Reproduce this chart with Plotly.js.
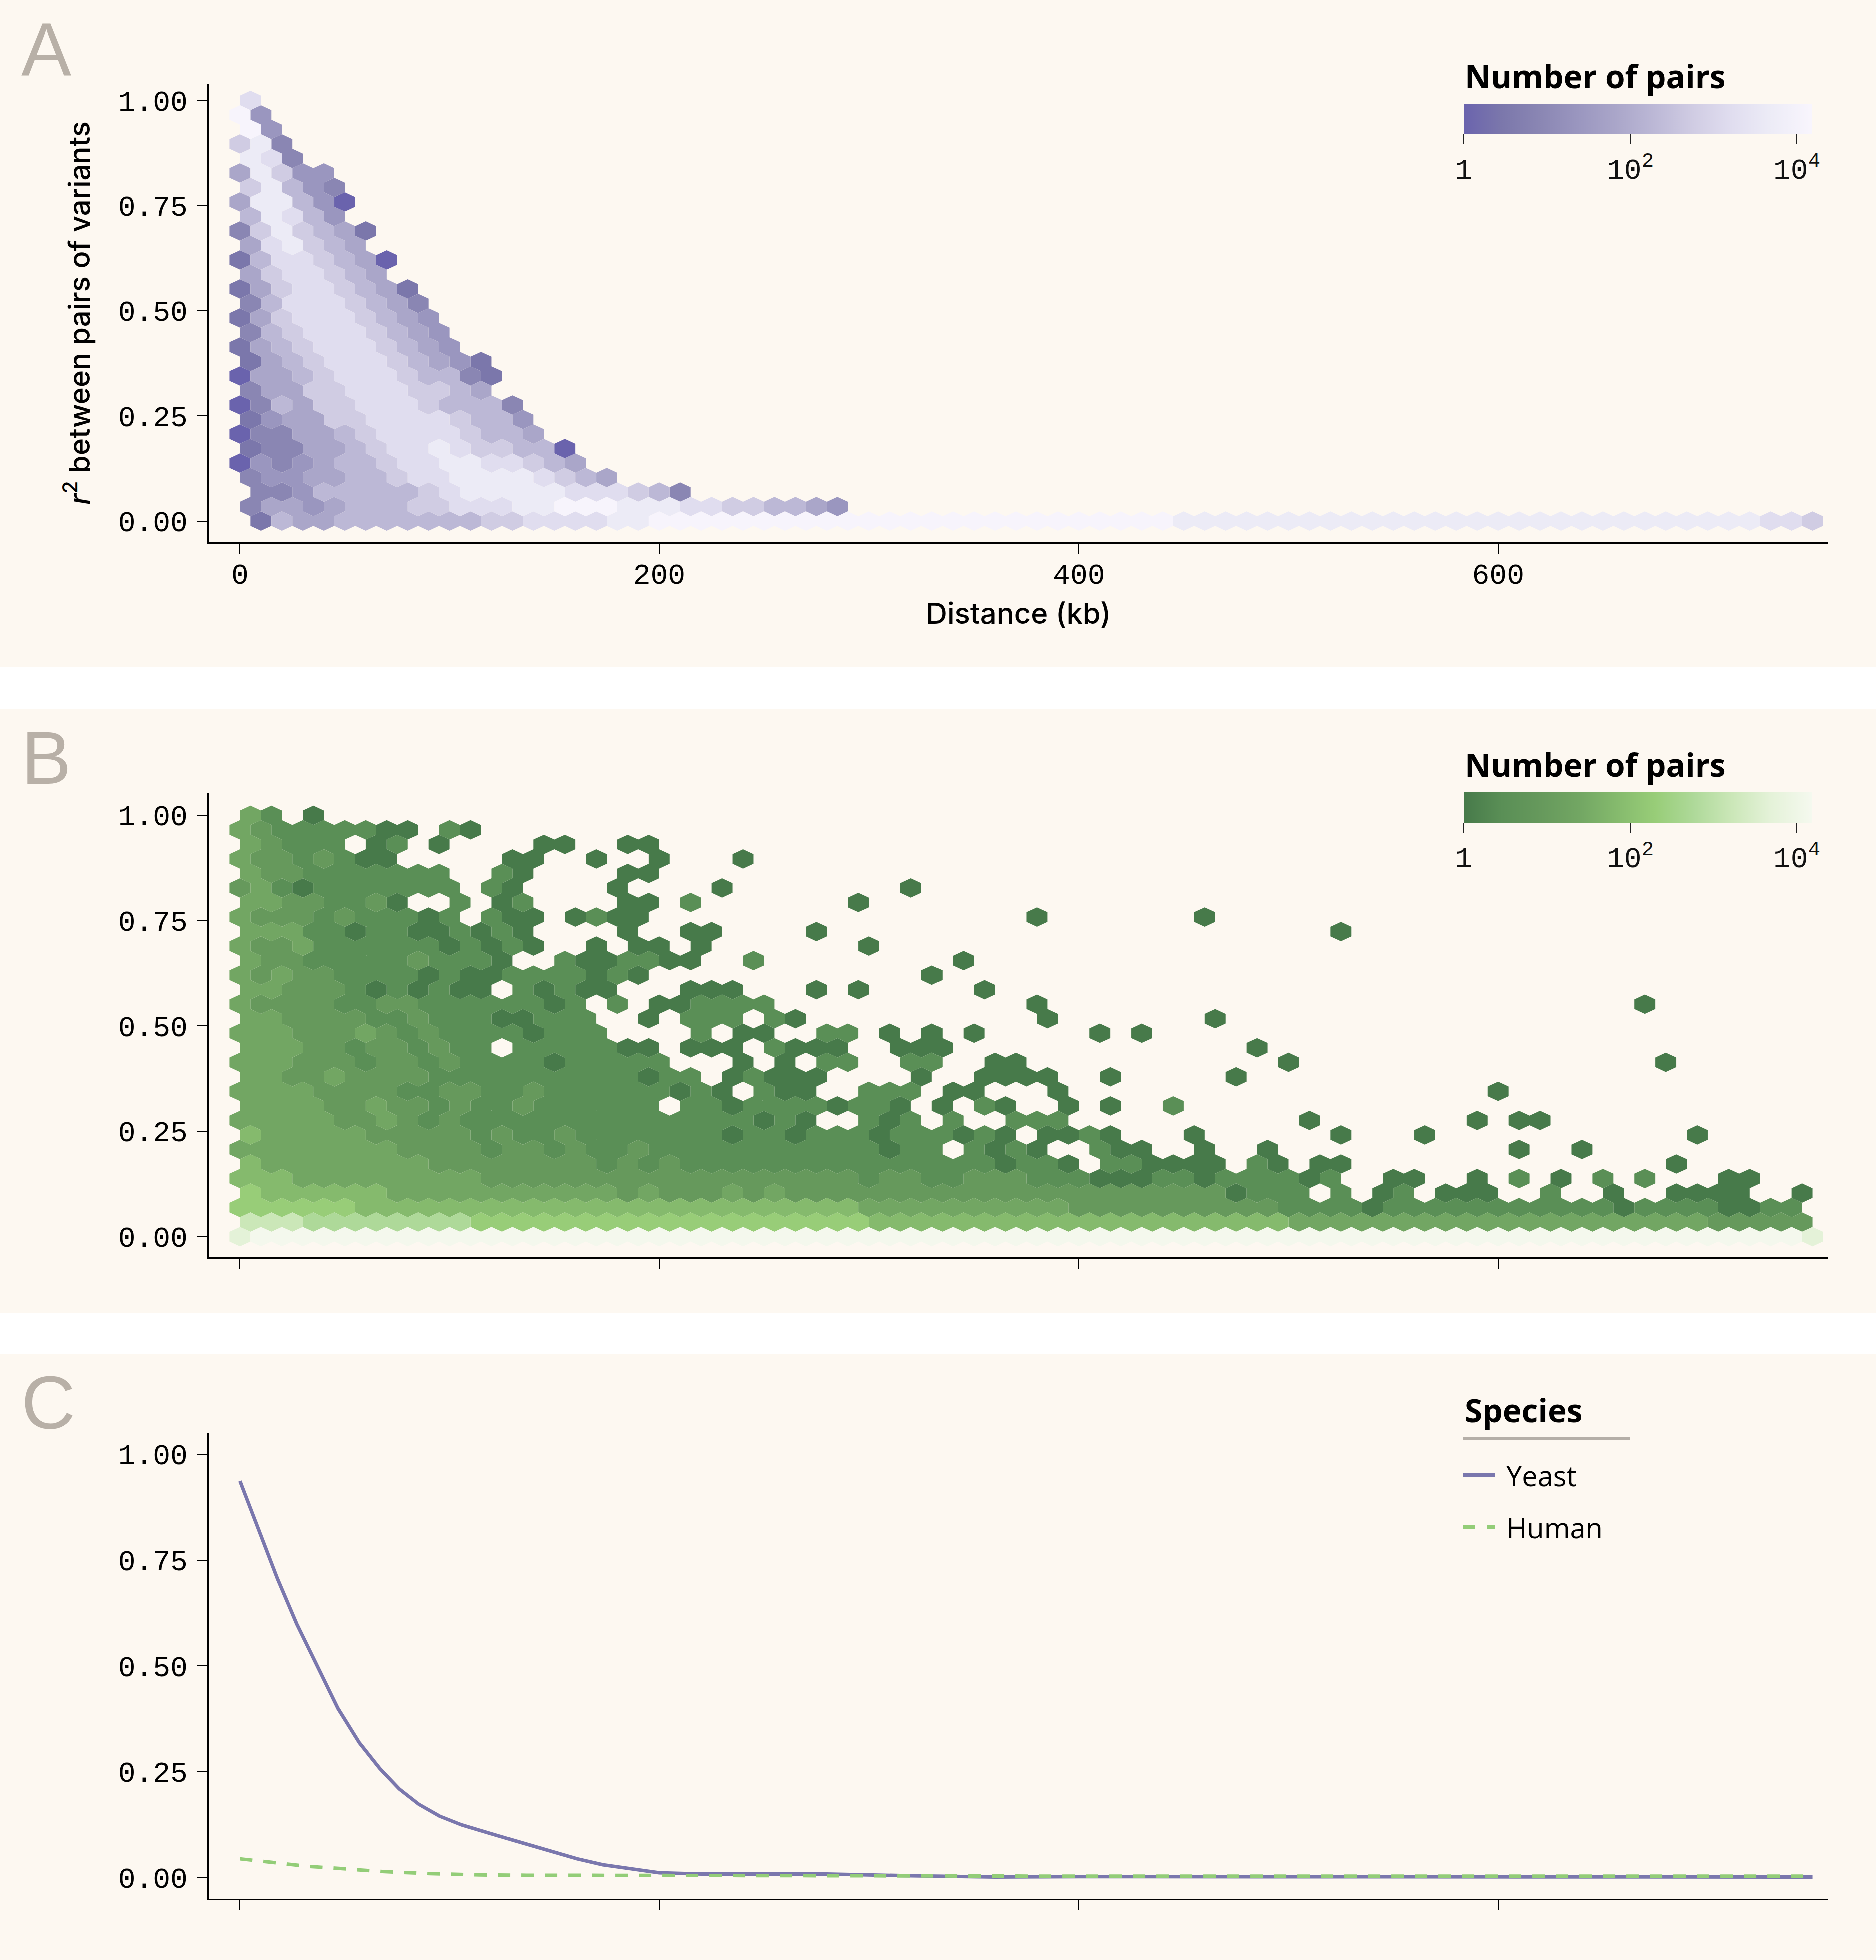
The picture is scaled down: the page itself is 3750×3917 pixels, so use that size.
<!DOCTYPE html>
<html>
<head>
<meta charset="utf-8">
<script src="https://cdn.plot.ly/plotly-3.0.1.min.js"></script>
<style>
  html, body { margin: 0; padding: 0; background: #ffffff; }
  #chart { width: 3750px; height: 3917px; }
</style>
</head>
<body>
<div id="chart"></div>
<script>
// Hex bins, one string per row, top row (r2 = 1.00) first.
// Each character is a colour level: log10(number of pairs) / 0.46, '.' = empty cell.
// Even rows (counted from the bottom) sit at 0, 10, 20 ... kb, odd rows at 5, 15, 25 ... kb.
const yeastHexRows = [
  '7',
  '93',
  '93',
  '682',
  '872',
  '48633',
  '68532',
  '488530',
  '58753',
  '2686541',
  '478654',
  '15776540',
  '4677654',
  '146776541',
  '257776542',
  '1467776543',
  '2567776543',
  '14567776543',
  '145677765431',
  '0445677765521',
  '244667776654',
  '02546677765552',
  '13446677776553',
  '022445677776554',
  '1224456778766550',
  '03234556778877654',
  '233445567788887654',
  '.223555556788888777652',
  '24434 55566 77788 99988 87766 5543',
  '.1544 55555 55667 77788 99999 99999 99999 99999 99999 88888 88888 88888 88888 88888 88877 6'
];

const humanHexRows = [
  '31.0',
  '32111 1100. 10',
  '32111 .01.0 ....0 0..00',
  '32212 100.. ...00 ..0.. 0...0',
  '32211 11111 ..10. ...00',
  '23101 11111 1.10. ...0. ...0. ..... ..0',
  '33221 120.. 1.01. ...00 .1... ....0',
  '32221 21110 1.100 .0100 ..... ..... ..... ...0. ..... .0',
  '33311 01100 1010. ...0. .00.. ..0.. ..... ..... ..... ..... ..0',
  '32231 11111 01010 ..0.0 0.0.. ..... 0',
  '32211 11121 110.. 10011 00..1 ..... ....0',
  '32322 11110 10011 11010 ..... ..... ...0',
  '33222 10101 00.10 100.. .000. ..0.0 ..... 0',
  '32222 11221 11111 01.1. 00111 1.... ..... ...0. ..... ..... ..... ..... ..... ..0',
  '33222 21121 11001 11..0 .111. 10... ..... ...0. ..... .0',
  '33322 23212 11110 111.. ..1.0 0..11 .0.0. 0.... .0.0',
  '33322 12212 11.11 11100 .000. 1000. .000. ..... ..... ...0',
  '33322 21221 21111 01111 1...0 .0.11 ..11. .00.. ..... ..... 0.... ..... ..... ...0',
  '33223 22221 11111 11110 11.01 000.. ..0.. 0000. .0... ..0',
  '33332 22211 22112 11111 1010. 100.. 111.0 0...0 ..... ..... ..... ..... 0',
  '33332 23221 21121 11111 .1101 11101 10.0. 10..0 .0..1',
  '33333 22321 21111 11111 11111 010.. 101.1 ..111 ..... ..... .0... ....0 .00',
  '43333 32222 21211 21111 11101 10111 01110 10.00 10... 0.... ..0.. .0... ..... ....0',
  '33333 33322 22122 12112 11111 11111 1011. 1010. .100. .0..0 ..... ..... .0..0',
  '43333 33332 22222 22121 21111 11111 11111 10110 .1100 00.10 .00.. ..... ..... ...0',
  '44433 33333 33222 22222 22222 22222 12211 22211 10001 10111 101.. 00..0 .1.0. 1.1.. .00',
  '54444 44333 33333 33323 22232 32222 22222 22222 22222 22011 1.1.0 1.000 ..1.. 0..00 00..0',
  '55555 54444 44444 44444 44444 44444 33333 33333 22222 22222 11110 11111 11111 10111 10011 .',
  '77766 66666 65555 55555 55555 55555 44444 44444 44444 44444 33333 33333 33333 33333 22222',
  '89999 99999 99999 99999 99999 99999 99999 99999 99999 99999 99999 99999 99999 99999 99999 8'
];

// panel C: mean r2 against distance (kb)
const yeastDistance = [0, 9, 17.9, 27.1, 37.7, 46.8, 57, 66.6, 76, 85.3, 95.2, 105.9, 120, 133.5,
  151.8, 160.9, 173.1, 189.8, 200, 220, 250, 280, 320, 360, 400, 450, 500, 550, 600, 650, 700, 750];
const yeastR2 = [0.937, 0.822, 0.706, 0.599, 0.490, 0.399, 0.318, 0.258, 0.209, 0.173, 0.145, 0.124,
  0.103, 0.083, 0.057, 0.044, 0.030, 0.017, 0.011, 0.008, 0.009, 0.008, 0.004, 0.001, 0.002, 0.002,
  0.002, 0.001, 0.001, 0.001, 0.001, 0.001];
const humanDistance = [0, 10, 22.5, 33, 45.3, 57.5, 68, 91, 114, 136.6, 159, 182, 200, 250, 300,
  400, 500, 600, 700, 750];
const humanR2 = [0.044, 0.038, 0.032, 0.026, 0.022, 0.017, 0.014, 0.009, 0.006, 0.0053, 0.005,
  0.005, 0.005, 0.004, 0.004, 0.003, 0.003, 0.003, 0.003, 0.003];

const yTickVals = [0, 0.25, 0.5, 0.75, 1];
const xTickVals = [0, 200, 400, 600];
const countTickVals = [0, 2, 4];
const countTickText = ['1', '10<sup>2</sup>', '10<sup>4</sup>'];

(function () {
  const W = 3750, H = 3917;
  const MONO = '"Liberation Mono", "DejaVu Sans Mono", monospace';
  const SANS = '"Open Sans", "Noto Sans", sans-serif';
  const AXIS_SANS = 'Inter, "Open Sans", sans-serif';
  const LETTER_SANS = '"Liberation Sans", Arial, sans-serif';
  const CREAM = '#fdf8f1';
  const LEVEL_STEP = 0.46;   // decades per colour level
  const COUNT_MAX = 4.18;    // top of the colour bar, in decades
  const HEX_DX = 10;         // kb between hex centres in a row
  const ROW_DY = 1 / 29;     // r2 between hex rows

  const purpleScale = [[0, '#6a63ad'], [0.11, '#7b77ab'], [0.22, '#8a86b3'], [0.33, '#9a96bf'],
    [0.44, '#aaa6c9'], [0.55, '#bcb8d6'], [0.66, '#d0cce3'], [0.77, '#e0ddef'], [0.88, '#ecebf6'],
    [1, '#f8f5fd']];
  const greenScale = [[0, '#477a4a'], [0.11, '#5a8f56'], [0.22, '#66995c'], [0.33, '#72a663'],
    [0.44, '#85ba6d'], [0.55, '#98cd78'], [0.66, '#aed999'], [0.77, '#cbe7b8'], [0.88, '#e4f2d8'],
    [1, '#f5f9ef']];

  const px = function (x) { return x / W; };
  const py = function (y) { return 1 - y / H; };

  const rgb = function (hex) {
    return [1, 3, 5].map(function (i) { return parseInt(hex.slice(i, i + 2), 16); });
  };
  const scaleColor = function (scale, t) {
    t = Math.max(0, Math.min(1, t));
    for (let i = 1; i < scale.length; i++) {
      if (t <= scale[i][0]) {
        const a = rgb(scale[i - 1][1]), b = rgb(scale[i][1]);
        const f = (t - scale[i - 1][0]) / (scale[i][0] - scale[i - 1][0]);
        const c = a.map(function (v, j) { return Math.round(v + (b[j] - v) * f); });
        return 'rgb(' + c.join(',') + ')';
      }
    }
    return scale[scale.length - 1][1];
  };

  // one filled trace per colour level, each hexagon a separate closed segment
  const hexTraces = function (rows, scale, n) {
    const byLevel = {};
    const hw = HEX_DX / 2, v1 = ROW_DY / 3, v2 = ROW_DY * 2 / 3;
    rows.forEach(function (row, j) {
      const k = rows.length - 1 - j;
      const cells = row.replace(/\s/g, '');
      for (let i = 0; i < cells.length; i++) {
        const c = cells.charAt(i);
        if (c === '.') continue;
        const cx = i * HEX_DX + (k % 2 ? hw : 0);
        const cy = k * ROW_DY;
        if (!byLevel[c]) byLevel[c] = { x: [], y: [] };
        byLevel[c].x.push(cx + hw, cx + hw, cx, cx - hw, cx - hw, cx, cx + hw, null);
        byLevel[c].y.push(cy - v1, cy + v1, cy + v2, cy + v1, cy - v1, cy - v2, cy - v1, null);
      }
    });
    return Object.keys(byLevel).map(function (level) {
      const color = scaleColor(scale, (+level) * LEVEL_STEP / COUNT_MAX);
      return {
        type: 'scatter', mode: 'lines',
        x: byLevel[level].x, y: byLevel[level].y,
        xaxis: 'x' + n, yaxis: 'y' + n,
        fill: 'toself', fillcolor: color,
        line: { width: 0, color: color, simplify: false },
        hoverinfo: 'skip', showlegend: false
      };
    });
  };

  // invisible marker trace that only carries the colour bar
  const colorbarTrace = function (scale, n, barTop) {
    return {
      type: 'scatter', mode: 'markers',
      x: [-1000, -1000], y: [0, 0],
      xaxis: 'x' + n, yaxis: 'y' + n,
      marker: {
        color: [0, COUNT_MAX], cmin: 0, cmax: COUNT_MAX, colorscale: scale, size: 2,
        showscale: true,
        colorbar: {
          orientation: 'h',
          x: px(2926), xanchor: 'left',
          y: py(barTop), yanchor: 'top',
          len: px(3622 - 2926), lenmode: 'fraction',
          thickness: 61, thicknessmode: 'pixels',
          outlinewidth: 0, xpad: 0, ypad: 0,
          ticks: 'outside', ticklen: 20, tickwidth: 2, tickcolor: '#222',
          tickvals: countTickVals, ticktext: countTickText,
          tickfont: { family: MONO, size: 58, color: '#111' }
        }
      },
      hoverinfo: 'skip', showlegend: false
    };
  };

  const traces = []
    .concat(hexTraces(yeastHexRows, purpleScale, ''))
    .concat(hexTraces(humanHexRows, greenScale, '2'))
    .concat([colorbarTrace(purpleScale, '', 207), colorbarTrace(greenScale, '2', 1583)])
    .concat([{
      type: 'scatter', mode: 'lines', name: 'Yeast',
      x: yeastDistance, y: yeastR2, xaxis: 'x3', yaxis: 'y3',
      line: { color: '#7a77ad', width: 7 }, hoverinfo: 'skip', showlegend: false
    }, {
      type: 'scatter', mode: 'lines', name: 'Human',
      x: humanDistance, y: humanR2, xaxis: 'x3', yaxis: 'y3',
      line: { color: '#93cd78', width: 7, dash: '25px,22px' }, hoverinfo: 'skip', showlegend: false
    }]);

  const xDomain = [px(416.5), px(3655)];
  const xBase = {
    domain: xDomain, range: [-15, 757.5],
    showline: true, linecolor: '#000', linewidth: 3,
    ticks: 'outside', ticklen: 20, tickwidth: 2, tickcolor: '#000',
    tickvals: xTickVals, ticklabelstandoff: -10,
    tickfont: { family: MONO, size: 58, color: '#000' },
    showgrid: false, zeroline: false, fixedrange: true
  };
  const yBase = {
    showline: true, linecolor: '#000', linewidth: 3,
    ticks: 'outside', ticklen: 20, tickwidth: 2, tickcolor: '#000',
    tickvals: yTickVals, tickformat: '.2f', ticklabelstandoff: 7,
    tickfont: { family: MONO, size: 58, color: '#000' },
    showgrid: false, zeroline: false, fixedrange: true
  };

  const panelRect = function (top, bottom) {
    return {
      type: 'rect', xref: 'paper', yref: 'paper', layer: 'below',
      x0: 0, x1: 1, y0: py(bottom), y1: py(top),
      fillcolor: CREAM, line: { width: 0 }
    };
  };
  const legendLine = function (x0, x1, y, color, width, dash) {
    return {
      type: 'line', xref: 'paper', yref: 'paper',
      x0: px(x0), x1: px(x1), y0: py(y), y1: py(y),
      line: { color: color, width: width, dash: dash || 'solid' }
    };
  };
  const label = function (text, x, y, size, weight, color, family) {
    return {
      text: text, xref: 'paper', yref: 'paper', x: px(x), y: py(y),
      xanchor: 'left', yanchor: 'middle', showarrow: false,
      font: { family: family || SANS, size: size, weight: weight, color: color || '#000' }
    };
  };

  const layout = {
    width: W, height: H, autosize: false,
    margin: { l: 0, r: 0, t: 0, b: 0, pad: 0 },
    paper_bgcolor: '#ffffff', plot_bgcolor: 'rgba(0,0,0,0)',
    showlegend: false,
    xaxis: Object.assign({}, xBase, {
      anchor: 'y',
      title: { text: 'Distance (kb)', standoff: 24, font: { family: AXIS_SANS, size: 58, weight: 500, color: '#000' } }
    }),
    yaxis: Object.assign({}, yBase, {
      anchor: 'x', domain: [py(1084), py(167)], range: [-0.0504, 1.0396],
      title: { text: '<i>r</i><sup>2</sup> between pairs of variants', standoff: 38,
        font: { family: AXIS_SANS, size: 58, weight: 500, color: '#000' } }
    }),
    xaxis2: Object.assign({}, xBase, { anchor: 'y2', showticklabels: false }),
    yaxis2: Object.assign({}, yBase, {
      anchor: 'x2', domain: [py(2513.4), py(1584.5)], range: [-0.0494, 1.053]
    }),
    xaxis3: Object.assign({}, xBase, { anchor: 'y3', showticklabels: false }),
    yaxis3: Object.assign({}, yBase, {
      anchor: 'x3', domain: [py(3795.2), py(2864)], range: [-0.0506, 1.0497]
    }),
    shapes: [
      panelRect(0, 1332), panelRect(1416, 2623), panelRect(2705, H),
      legendLine(2925, 3259, 2875, '#b5afa8', 6),
      legendLine(2925, 2988, 2948, '#7a77ad', 8),
      legendLine(2925, 2988, 3052, '#93cd78', 8, '24px,23px')
    ],
    annotations: [
      label('A', 40, 98, 150, 400, '#b8b0a7', LETTER_SANS),
      label('B', 40, 1514, 150, 400, '#b8b0a7', LETTER_SANS),
      label('C', 40, 2803, 150, 400, '#b8b0a7', LETTER_SANS),
      label('Number of pairs', 2926, 151, 64, 'bold'),
      label('Number of pairs', 2926, 1527, 64, 'bold'),
      label('Species', 2926, 2817, 64, 'bold'),
      label('Yeast', 3009, 2948, 56, 400),
      label('Human', 3009, 3052, 56, 400)
    ]
  };

  Plotly.newPlot('chart', traces, layout, { staticPlot: true, displayModeBar: false });
})();
</script>
</body>
</html>
